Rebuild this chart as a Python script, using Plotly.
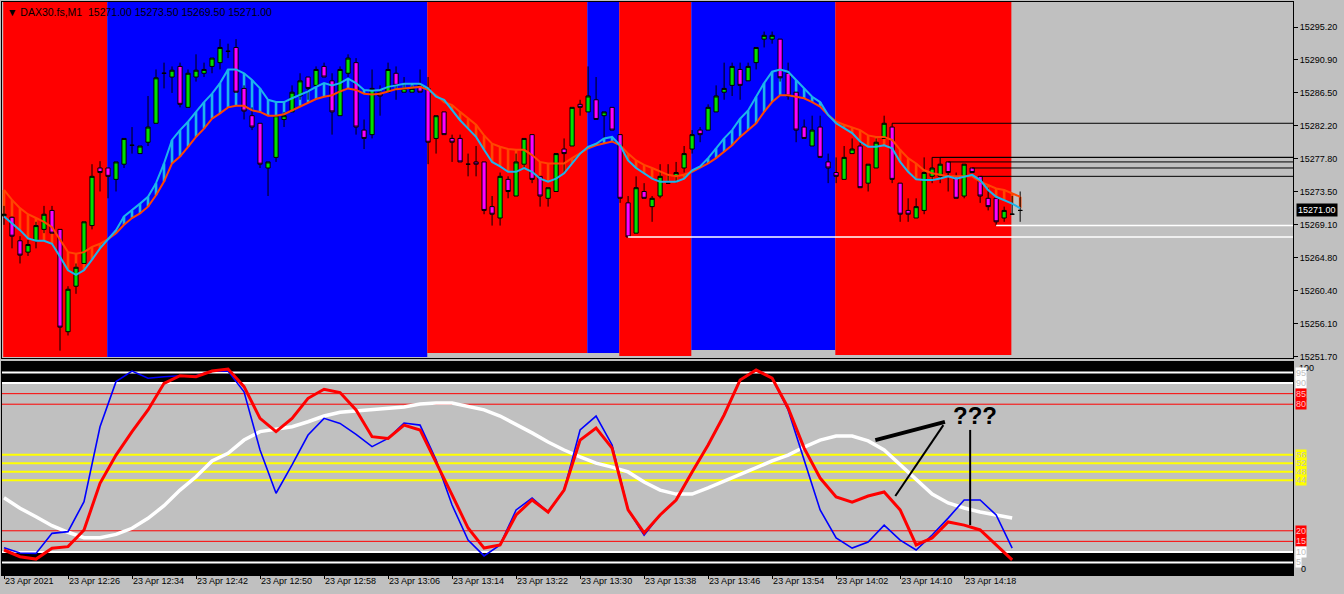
import plotly.graph_objects as go

# ---------------- price data (DAX30.fs, M1), bars 0..127 = 12:18 .. 14:25 ----------------
opens = [
    15270.3, 15270.1, 15267.0, 15265.5, 15267.0, 15268.5, 15271.0, 15268.5, 15255.0, 15261.0,
    15264.0, 15269.0, 15276.6, 15276.6, 15275.1, 15277.1, 15279.6, 15278.5, 15280.0, 15282.5,
    15289.1, 15288.6, 15290.0, 15284.6, 15288.6, 15289.1, 15290.0, 15290.5, 15292.0, 15292.5,
    15287.1, 15283.5, 15282.5, 15276.6, 15278.0, 15283.0, 15284.0, 15286.1, 15288.6, 15287.5,
    15290.0, 15288.1, 15283.5, 15289.1, 15290.5, 15281.6, 15281.0, 15286.6, 15286.6, 15289.1,
    15286.6, 15286.6, 15287.5, 15287.1, 15280.5, 15284.0, 15280.5, 15280.5, 15277.1, 15277.4,
    15277.4, 15271.5, 15270.0, 15275.1, 15272.9, 15277.1, 15281.0, 15275.5, 15272.6, 15273.5,
    15279.1, 15279.5, 15285.0, 15284.0, 15285.6, 15283.5, 15284.6, 15281.0, 15272.0, 15268.0,
    15273.5, 15271.5, 15272.9, 15274.6, 15275.5, 15276.6, 15279.1, 15281.6, 15281.6, 15284.0,
    15286.6, 15287.5, 15289.6, 15288.1, 15290.5, 15293.6, 15293.6, 15293.6, 15289.1, 15286.6,
    15282.0, 15279.5, 15282.0, 15277.4, 15276.0, 15275.1, 15278.5, 15279.5, 15274.6, 15276.6,
    15280.5, 15282.0, 15274.6, 15271.0, 15270.0, 15271.0, 15275.5, 15275.5, 15277.4, 15275.5,
    15272.9, 15276.6, 15275.5, 15272.6, 15272.6, 15270.0, 15270.5, 15271.0]
highs = [
    15271.6, 15270.2, 15267.6, 15267.1, 15269.5, 15271.6, 15271.6, 15268.5, 15261.0, 15264.0,
    15269.5, 15277.1, 15277.5, 15276.6, 15277.4, 15280.5, 15282.0, 15279.5, 15286.1, 15289.6,
    15290.5, 15290.0, 15290.5, 15289.6, 15291.6, 15290.5, 15291.1, 15293.6, 15293.0, 15293.6,
    15287.5, 15284.6, 15282.5, 15277.4, 15283.5, 15284.0, 15287.5, 15289.1, 15288.6, 15290.0,
    15290.5, 15289.1, 15290.0, 15291.6, 15291.1, 15283.0, 15289.6, 15287.5, 15290.5, 15290.0,
    15288.6, 15287.5, 15289.6, 15288.6, 15283.5, 15284.0, 15281.0, 15281.0, 15278.5, 15279.5,
    15277.4, 15272.9, 15276.0, 15275.5, 15278.5, 15280.5, 15281.0, 15275.5, 15274.0, 15278.5,
    15280.5, 15284.6, 15285.6, 15290.0, 15288.6, 15284.0, 15284.6, 15281.0, 15272.9, 15275.5,
    15274.6, 15272.9, 15277.1, 15277.1, 15277.4, 15279.5, 15281.6, 15282.0, 15285.0, 15287.5,
    15290.5, 15290.5, 15290.5, 15290.5, 15292.5, 15294.6, 15294.6, 15293.6, 15290.5, 15286.6,
    15283.0, 15283.5, 15283.5, 15278.5, 15278.0, 15279.5, 15280.5, 15280.0, 15277.1, 15280.5,
    15283.5, 15282.5, 15274.6, 15272.6, 15272.6, 15278.0, 15278.0, 15278.0, 15277.4, 15276.0,
    15277.1, 15276.6, 15275.5, 15274.0, 15272.6, 15271.5, 15272.9, 15273.5]
lows = [
    15269.1, 15266.0, 15264.0, 15265.0, 15266.0, 15268.0, 15268.0, 15252.5, 15254.5, 15260.0,
    15264.0, 15268.5, 15273.5, 15272.6, 15273.5, 15276.6, 15278.5, 15278.5, 15279.5, 15282.5,
    15287.1, 15286.5, 15284.6, 15284.6, 15288.0, 15288.6, 15289.1, 15289.6, 15291.1, 15286.6,
    15283.0, 15281.6, 15276.6, 15272.9, 15277.4, 15282.0, 15284.0, 15285.6, 15285.6, 15287.5,
    15288.6, 15281.0, 15283.5, 15288.6, 15281.0, 15279.1, 15280.5, 15283.5, 15286.6, 15285.6,
    15286.6, 15286.6, 15286.6, 15277.1, 15278.5, 15281.0, 15277.4, 15277.4, 15275.5, 15275.5,
    15270.5, 15269.0, 15269.0, 15272.6, 15272.9, 15276.6, 15274.6, 15271.5, 15271.5, 15273.5,
    15276.0, 15279.5, 15283.5, 15284.0, 15283.0, 15280.5, 15281.6, 15272.0, 15267.5, 15268.0,
    15272.6, 15269.5, 15272.6, 15274.6, 15274.6, 15276.0, 15278.5, 15280.0, 15281.6, 15284.0,
    15285.6, 15286.1, 15285.6, 15288.1, 15289.6, 15292.5, 15293.0, 15288.0, 15285.6, 15280.0,
    15280.5, 15279.5, 15278.0, 15274.6, 15274.6, 15275.1, 15278.5, 15274.0, 15273.5, 15276.6,
    15280.5, 15274.6, 15269.5, 15269.5, 15270.0, 15270.5, 15274.6, 15274.6, 15273.5, 15272.6,
    15272.6, 15276.0, 15272.0, 15271.0, 15269.0, 15269.5, 15270.5, 15269.5]
closes = [
    15270.5, 15267.6, 15265.1, 15266.5, 15269.0, 15270.5, 15268.0, 15255.6, 15260.6, 15263.5,
    15269.5, 15275.5, 15276.0, 15275.5, 15277.4, 15280.5, 15279.6, 15279.5, 15282.0, 15288.5,
    15289.1, 15289.5, 15285.0, 15289.1, 15289.5, 15289.6, 15291.1, 15292.5, 15292.0, 15286.6,
    15284.1, 15282.0, 15277.1, 15277.4, 15283.5, 15283.5, 15286.6, 15288.1, 15287.1, 15289.6,
    15288.6, 15284.0, 15289.6, 15291.1, 15282.0, 15280.5, 15287.1, 15286.1, 15289.6, 15287.5,
    15287.1, 15287.1, 15286.6, 15280.0, 15283.5, 15281.0, 15280.0, 15277.4, 15277.1, 15277.1,
    15271.0, 15270.5, 15275.5, 15273.5, 15277.4, 15280.5, 15275.1, 15272.9, 15274.0, 15278.5,
    15278.5, 15284.6, 15284.6, 15286.1, 15283.0, 15284.0, 15281.6, 15272.6, 15267.5, 15274.0,
    15272.6, 15272.6, 15275.5, 15274.6, 15276.0, 15278.5, 15281.0, 15281.0, 15284.6, 15286.1,
    15287.1, 15290.0, 15287.5, 15290.0, 15292.5, 15294.1, 15294.1, 15288.5, 15286.1, 15281.6,
    15280.5, 15281.6, 15278.0, 15276.6, 15275.5, 15278.0, 15279.1, 15274.0, 15277.1, 15280.0,
    15282.5, 15275.1, 15270.5, 15270.5, 15271.5, 15276.0, 15276.6, 15277.1, 15276.0, 15272.6,
    15277.1, 15276.0, 15272.9, 15271.5, 15269.5, 15271.0, 15270.5, 15271.0]

# fast (cyan) and slow (orange) moving averages
fast_ma = [
    15270.2, 15269.3, 15268.4, 15267.3, 15267.0, 15267.0, 15266.6, 15264.9, 15263.1, 15262.5,
    15263.1, 15264.5, 15266.0, 15267.2, 15268.4, 15270.2, 15271.0, 15271.9, 15272.8, 15274.6,
    15277.2, 15280.3, 15281.6, 15282.7, 15284.0, 15285.3, 15286.4, 15287.8, 15289.6, 15289.6,
    15289.1, 15288.2, 15287.1, 15285.6, 15285.3, 15285.3, 15285.8, 15286.2, 15286.7, 15287.3,
    15287.8, 15287.5, 15287.8, 15288.4, 15287.8, 15286.9, 15286.8, 15286.9, 15287.3, 15287.5,
    15287.7, 15287.7, 15287.7, 15287.1, 15286.0, 15285.6, 15284.2, 15282.9, 15281.8, 15280.7,
    15279.0, 15277.4, 15276.8, 15276.1, 15276.1, 15276.6, 15276.1, 15275.2, 15274.8, 15275.2,
    15275.9, 15277.2, 15278.5, 15279.4, 15279.8, 15280.5, 15280.7, 15279.6, 15277.6, 15276.6,
    15275.9, 15275.2, 15274.8, 15274.8, 15274.8, 15275.2, 15276.3, 15276.8, 15277.9, 15279.2,
    15280.5, 15281.6, 15283.1, 15284.2, 15286.0, 15287.8, 15289.3, 15289.6, 15289.3, 15288.2,
    15287.1, 15286.0, 15285.3, 15283.6, 15282.5, 15281.8, 15281.2, 15280.1, 15279.4, 15279.4,
    15279.6, 15279.2, 15277.4, 15276.1, 15275.1, 15275.0, 15275.0, 15275.2, 15275.5, 15275.2,
    15275.5, 15275.7, 15275.0, 15273.7, 15272.8, 15272.4, 15271.9, 15271.3]
slow_ma = [
    15273.7, 15272.4, 15271.3, 15270.5, 15270.0, 15269.5, 15268.8, 15267.1, 15265.5, 15265.3,
    15265.5, 15266.2, 15266.6, 15267.2, 15268.0, 15269.1, 15270.0, 15270.6, 15271.5, 15273.0,
    15274.8, 15277.2, 15278.1, 15279.4, 15280.7, 15281.8, 15283.1, 15283.8, 15284.6, 15284.8,
    15284.8, 15284.2, 15284.0, 15283.5, 15283.5, 15283.7, 15284.2, 15284.8, 15285.2, 15285.7,
    15286.0, 15286.2, 15286.7, 15287.1, 15286.9, 15286.4, 15286.3, 15286.4, 15286.7, 15287.0,
    15287.1, 15287.2, 15287.3, 15286.9, 15286.2, 15285.3, 15284.9, 15284.0, 15283.1, 15282.3,
    15280.9, 15279.8, 15279.4, 15279.1, 15279.0, 15279.0, 15278.3, 15277.4, 15277.2, 15277.2,
    15277.2, 15277.9, 15278.5, 15279.2, 15279.6, 15279.8, 15280.1, 15279.6, 15278.5, 15277.6,
    15277.0, 15276.6, 15276.1, 15275.7, 15275.5, 15275.7, 15276.1, 15276.6, 15277.2, 15277.9,
    15278.7, 15279.6, 15280.7, 15281.6, 15282.5, 15284.0, 15285.3, 15286.2, 15286.2, 15286.0,
    15285.8, 15285.3, 15284.7, 15283.6, 15282.7, 15282.3, 15282.0, 15281.6, 15280.9, 15280.7,
    15280.7, 15280.3, 15279.0, 15277.9, 15277.2, 15276.3, 15275.9, 15275.7, 15275.5, 15275.5,
    15275.5, 15275.5, 15274.8, 15274.4, 15273.9, 15273.7, 15273.3, 15272.8]

# trend histogram bands behind the candles (first bar, last bar, colour, lower edge)
seg_start = [0, 13, 53, 73, 77, 86, 104]
seg_end = [12, 52, 72, 76, 85, 103, 125]
seg_color = ["#FF0000", "#0000FF", "#FF0000", "#0000FF", "#FF0000", "#0000FF", "#FF0000"]
seg_floor = [15251.66, 15251.66, 15252.19, 15252.19, 15251.80, 15252.59, 15251.93]
band_top = 15300.0

# horizontal levels drawn from bar highs (black) and lows (white)
high_marks = [111, 116, 117, 118, 121, 122]
low_marks = [78, 124]

price_ticks = [15295.20, 15290.90, 15286.50, 15282.20, 15277.80, 15273.50,
               15269.10, 15264.80, 15260.40, 15256.10, 15251.70]
time_ticks = [0, 8, 16, 24, 32, 40, 48, 56, 64, 72, 80, 88, 96, 104, 112, 120]
time_labels = ["23 Apr 2021", "23 Apr 12:26", "23 Apr 12:34", "23 Apr 12:42", "23 Apr 12:50",
               "23 Apr 12:58", "23 Apr 13:06", "23 Apr 13:14", "23 Apr 13:22", "23 Apr 13:30",
               "23 Apr 13:38", "23 Apr 13:46", "23 Apr 13:54", "23 Apr 14:02", "23 Apr 14:10",
               "23 Apr 14:18"]

# ---------------- oscillator window (sampled every 2 bars) ----------------
osc_bar = list(range(0, 128, 2))
osc_blue = [12.0, 9.5, 9.3, 18.8, 19.6, 33.8, 69.3, 90.7, 95.7, 92.3, 93.0, 93.5, 93.5, 95.7, 95.7,
            85.9, 58.3, 37.8, 51.2, 65.4, 73.3, 70.9, 65.7, 59.9, 63.8, 71.1, 70.1, 53.6, 32.2, 15.6,
            8.1, 13.3, 29.9, 35.5, 28.9, 39.3, 67.8, 74.4, 60.7, 29.9, 18.0, 27.5, 34.6, 47.9, 60.7,
            74.9, 91.5, 96.2, 92.4, 77.3, 53.6, 29.9, 16.6, 11.8, 14.7, 22.7, 15.6, 10.9, 18.0, 26.0,
            34.6, 34.6, 27.5, 11.8]
osc_red = [10.9, 7.7, 6.6, 11.7, 12.5, 20.4, 42.5, 55.9, 67.0, 77.3, 89.9, 93.5, 93.0, 95.7, 96.7,
           88.3, 73.3, 67.0, 73.3, 82.8, 87.1, 85.5, 77.3, 64.6, 63.8, 70.1, 67.8, 52.6, 37.0, 21.3,
           11.8, 13.3, 27.5, 34.6, 28.9, 39.3, 63.0, 68.7, 59.2, 29.9, 19.0, 27.5, 34.6, 47.9, 60.7,
           74.9, 91.5, 96.2, 92.4, 78.2, 59.2, 45.0, 36.0, 33.6, 36.5, 38.4, 29.9, 13.3, 16.6, 24.2,
           22.7, 20.4, 13.3, 6.2]
osc_white = [35.7, 30.7, 26.7, 22.4, 19.3, 16.7, 16.7, 18.3, 21.2, 25.9, 31.9, 39.3, 45.6, 53.1, 56.7,
             63.0, 67.0, 68.2, 69.3, 71.7, 74.4, 76.2, 76.8, 77.3, 78.1, 78.7, 80.1, 80.6, 80.6, 79.1,
             77.3, 74.4, 70.6, 66.4, 62.1, 58.3, 55.0, 52.1, 50.2, 47.9, 43.1, 39.3, 37.4, 37.4, 40.3,
             43.6, 46.9, 50.2, 53.1, 55.9, 59.7, 63.0, 64.9, 64.9, 62.6, 58.3, 51.2, 44.1, 37.4, 33.2,
             30.8, 28.9, 27.5, 26.1]

levels = [95, 90, 85, 80, 56, 52, 48, 44, 20, 15, 10, 5]
level_colors = ["white", "white", "#FF0000", "#FF0000", "#FFFF00", "#FFFF00", "#FFFF00", "#FFFF00",
                "#FF0000", "#FF0000", "white", "white"]
level_text = ["#C0C0C0", "#C0C0C0", "#FFC0C0", "#FFC0C0", "#C0C0C0", "#C0C0C0", "#C0C0C0", "#C0C0C0",
              "#FFC0C0", "#FFC0C0", "#C0C0C0", "#C0C0C0"]
black_zones = [(90, 100), (-1, 10)]

GREY = "#C0C0C0"
CYAN = "#1CB4EC"
ORANGE = "#FF4500"
XMAX = 161.1

fig = go.Figure()
bars = list(range(len(opens)))

# background bands, one bar per segment
fig.add_trace(go.Bar(
    x=[(s + e) / 2 + 0.4 for s, e in zip(seg_start, seg_end)],
    y=[band_top - f for f in seg_floor], base=seg_floor,
    width=[e - s + 1 for s, e in zip(seg_start, seg_end)],
    marker=dict(color=seg_color, line_width=0), xaxis="x", yaxis="y", hoverinfo="skip"))

# hatch between the two averages
lo = [min(f, s) for f, s in zip(fast_ma, slow_ma)]
hi = [max(f, s) for f, s in zip(fast_ma, slow_ma)]
hc = [CYAN if f > s else ORANGE for f, s in zip(fast_ma, slow_ma)]
fig.add_trace(go.Bar(x=bars, y=[h - l for h, l in zip(hi, lo)], base=lo, width=0.33,
                     marker=dict(color=hc, line_width=0), xaxis="x", yaxis="y", hoverinfo="skip"))

fig.add_trace(go.Scatter(x=bars, y=slow_ma, mode="lines", line=dict(color=ORANGE, width=2),
                         xaxis="x", yaxis="y"))
fig.add_trace(go.Scatter(x=bars, y=fast_ma, mode="lines", line=dict(color=CYAN, width=2),
                         xaxis="x", yaxis="y"))

for i in high_marks:
    fig.add_trace(go.Scatter(x=[i, XMAX], y=[highs[i], highs[i]], mode="lines",
                             line=dict(color="black", width=1), xaxis="x", yaxis="y"))
for i in low_marks:
    fig.add_trace(go.Scatter(x=[i, XMAX], y=[lows[i], lows[i]], mode="lines",
                             line=dict(color="white", width=1.5), xaxis="x", yaxis="y"))

fig.add_trace(go.Candlestick(
    x=bars, open=opens, high=highs, low=lows, close=closes, whiskerwidth=0,
    increasing=dict(fillcolor="#00E000", line=dict(color="black", width=1)),
    decreasing=dict(fillcolor="#FF00FF", line=dict(color="black", width=1)),
    xaxis="x", yaxis="y"))

# oscillator lines
fig.add_trace(go.Scatter(x=osc_bar, y=osc_white, mode="lines", line=dict(color="white", width=3.5),
                         xaxis="x2", yaxis="y2"))
fig.add_trace(go.Scatter(x=osc_bar, y=osc_blue, mode="lines", line=dict(color="#0000FF", width=1.6),
                         xaxis="x2", yaxis="y2"))
fig.add_trace(go.Scatter(x=osc_bar, y=osc_red, mode="lines", line=dict(color="#FF0000", width=3),
                         xaxis="x2", yaxis="y2"))

shapes = []
for a, b in black_zones:
    shapes.append(dict(type="rect", xref="x2 domain", yref="y2", x0=0, x1=1, y0=a, y1=b,
                       fillcolor="black", line_width=0, layer="below"))
for lv, col in zip(levels, level_colors):
    w = 1 if col == "#FF0000" else 2
    shapes.append(dict(type="line", xref="x2 domain", yref="y2", x0=0, x1=1, y0=lv, y1=lv,
                       line=dict(color=col, width=w), layer="below"))

# hand-drawn pointers to "???"
shapes += [
    dict(type="line", xref="x2", yref="y2", x0=108.9, y0=63.0, x1=117.6, y1=71.6,
         line=dict(color="black", width=4)),
    dict(type="line", xref="x2", yref="y2", x0=111.4, y0=36.5, x1=117.4, y1=70.1,
         line=dict(color="black", width=2)),
    dict(type="line", xref="x2", yref="y2", x0=120.75, y0=67.8, x1=120.75, y1=22.7,
         line=dict(color="black", width=2)),
]

annotations = [
    dict(text="▼ DAX30.fs,M1  15271.00 15273.50 15269.50 15271.00", xref="paper", yref="paper",
         x=0.002, y=1, xanchor="left", yanchor="top", yshift=-2, showarrow=False,
         font=dict(size=10.5, color="black")),
    dict(text="15271.00", xref="paper", yref="y", x=1, y=closes[-1], xanchor="left", xshift=3,
         showarrow=False, bgcolor="black", font=dict(size=9, color="white"), borderpad=1),
    dict(text="<b>???</b>", xref="x2", yref="y2", x=121.4, y=74.5, showarrow=False,
         font=dict(size=24, color="black", family="Liberation Sans")),
    dict(text="100", xref="paper", yref="y2", x=1, y=100, yanchor="top", xanchor="left", xshift=4,
         yshift=1, showarrow=False, font=dict(size=9, color="black")),
    dict(text="0", xref="paper", yref="y2", x=1, y=2, xanchor="left", xshift=6, showarrow=False,
         font=dict(size=9, color="black")),
]
for lv, col, tc in zip(levels, level_colors, level_text):
    annotations.append(dict(text=str(lv), xref="paper", yref="y2", x=1, y=lv, xanchor="left",
                            xshift=2, showarrow=False, bgcolor=col, borderpad=0,
                            font=dict(size=9, color=tc)))

fig.update_layout(
    width=1344, height=594,
    margin=dict(l=2, r=51, t=2, b=19, autoexpand=False),
    paper_bgcolor=GREY, plot_bgcolor=GREY,
    font=dict(family="Liberation Sans", size=9, color="black"),
    barmode="overlay", boxgap=0.25, showlegend=False,
    shapes=shapes, annotations=annotations,
    xaxis=dict(domain=[0, 1], range=[-0.25, XMAX], anchor="y", showticklabels=False,
               showline=True, mirror=True, linecolor="black", showgrid=False, zeroline=False,
               rangeslider=dict(visible=False)),
    yaxis=dict(domain=[0.3787, 1], range=[15251.53, 15298.5], anchor="x", side="right",
               tickvals=price_ticks, ticktext=[f"{v:.2f}" for v in price_ticks],
               ticks="outside", ticklen=4, tickcolor="black", showline=True, mirror=True,
               linecolor="black", showgrid=False, zeroline=False),
    xaxis2=dict(domain=[0, 1], range=[-0.25, XMAX], anchor="y2", tickvals=time_ticks,
                ticktext=time_labels, ticks="outside", ticklen=3, tickcolor="black",
                ticklabelposition="outside right", ticklabelstandoff=-3, showline=True,
                mirror=True, linecolor="black", showgrid=False, zeroline=False),
    yaxis2=dict(domain=[0, 0.3717], range=[-0.95, 100], anchor="x2", side="right",
                showticklabels=False, showline=True, mirror=True, linecolor="black",
                showgrid=False, zeroline=False),
)

# the page body has a default 8px margin; remove it so the chart sits at the window corner
fig.write_html("out.html", config={"displayModeBar": False},
               post_script="document.body.style.margin='0px';")
